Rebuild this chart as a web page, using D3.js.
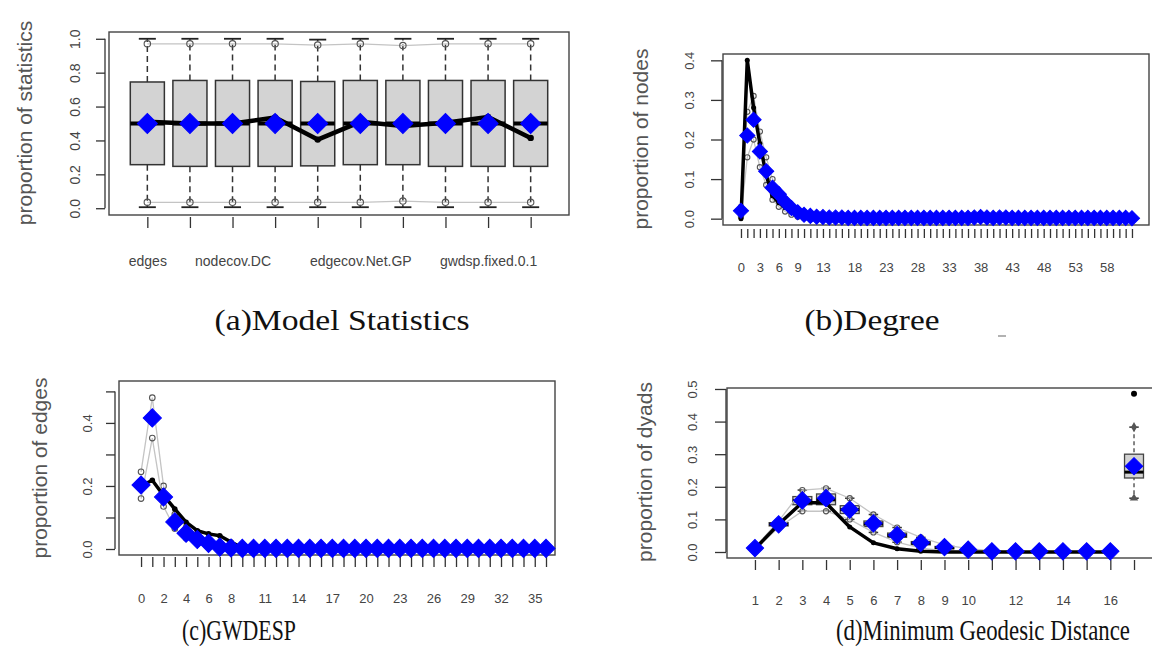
<!DOCTYPE html>
<html><head><meta charset="utf-8">
<script src="https://cdn.jsdelivr.net/npm/d3@7"></script>
<style>body{margin:0;background:#fff}svg{display:block}</style>
</head><body>
<svg id="chart" width="1152" height="664"></svg>
<script>
// ---------- (a) Model statistics ----------
const statTickLabels = ["edges","","nodecov.DC","","","edgecov.Net.GP","","","gwdsp.fixed.0.1",""];
const statQ1  = [0.257,0.247,0.247,0.247,0.250,0.257,0.257,0.247,0.247,0.247];
const statQ3  = [0.745,0.754,0.754,0.754,0.748,0.754,0.754,0.754,0.754,0.754];
const statMed = [0.50,0.50,0.50,0.50,0.50,0.50,0.50,0.50,0.50,0.50];
const statMin = [0.006,0.006,0.006,0.006,0.006,0.006,0.006,0.006,0.006,0.006];
const statMax = [1.0,1.0,1.0,1.0,0.995,1.0,1.0,1.0,1.0,1.0];
const statHi  = [0.97,0.97,0.97,0.97,0.963,0.97,0.96,0.97,0.97,0.97];
const statLo  = [0.035,0.035,0.035,0.035,0.035,0.035,0.042,0.035,0.035,0.035];
const statObs = [0.51,0.50,0.50,0.535,0.405,0.51,0.485,0.505,0.538,0.415];
const statMean= [0.50,0.50,0.50,0.50,0.50,0.50,0.50,0.50,0.50,0.50];
const statYTicks = [0,0.2,0.4,0.6,0.8,1.0];

// ---------- (b) Degree ----------
const degBlue = [0.02,0.21,0.25,0.17,0.12,0.078,0.062,0.042,0.027,0.016,
  0.01,0.007,0.005,0.004,0.003,0.003,0.003,0.002,0.002,0.002,
  0.002,0.002,0.002,0.002,0.002,0.002,0.002,0.002,0.002,0.002,
  0.002,0.002,0.002,0.002,0.002,0.002,0.002,0.003,0.004,0.003,
  0.002,0.003,0.003,0.002,0.002,0.002,0.002,0.002,0.002,0.002,
  0.002,0.002,0.002,0.002,0.002,0.002,0.002,0.002,0.002,0.002,
  0.002,0.002,0.001];
const degBlack = [0.0,0.40,0.28,0.19,0.11,0.058,0.04,0.028,0.017,0.009,
  0.005,0.003,0.002,0.001,0,0,0,0,0,0, 0,0,0,0,0,0,0,0,0,0,
  0,0,0,0,0,0,0,0,0,0, 0,0,0,0,0,0,0,0,0,0, 0,0,0,0,0,0,0,0,0,0, 0,0,0];
const degHi = [0.03,0.27,0.31,0.22,0.155,0.10,0.07,0.05,0.034,0.02,
  0.013,0.009,0.006,0.004,0.003,0.002,0.001,0.001,0,0, 0,0,0,0,0,0,0,0,0,0,
  0,0,0,0,0,0,0,0,0,0, 0,0,0,0,0,0,0,0,0,0, 0,0,0,0,0,0,0,0,0,0, 0,0,0];
const degLo = [0.005,0.155,0.20,0.13,0.085,0.048,0.03,0.018,0.01,0.005,
  0.002,0.001,0,0,0,0,0,0,0,0, 0,0,0,0,0,0,0,0,0,0,
  0,0,0,0,0,0,0,0,0,0, 0,0,0,0,0,0,0,0,0,0, 0,0,0,0,0,0,0,0,0,0, 0,0,0];
const degLabelled = [0,3,6,9,13,18,23,28,33,38,43,48,53,58];
const degYTicks = [0,0.1,0.2,0.3,0.4];

// ---------- (c) GWDESP ----------
const espBlue = [0.203,0.416,0.165,0.086,0.05,0.03,0.018,0.006,0.003,0.002,
  0.002,0.002,0.002,0.002,0.002,0.002,0.002,0.002,0.002,0.002,
  0.002,0.002,0.002,0.002,0.002,0.002,0.002,0.002,0.002,0.002,
  0.002,0.002,0.002,0.002,0.002,0.002,0.002];
const espBlack = [0.20,0.218,0.17,0.127,0.085,0.058,0.048,0.042,0.022,0.004,
  0,0,0,0,0,0,0,0,0,0, 0,0,0,0,0,0,0,0,0,0, 0,0,0,0,0,0,0];
const espHi = [0.245,0.48,0.20,0.11,0.068,0.042,0.026,0.014,0.006,0.002,
  0,0,0,0,0,0,0,0,0,0, 0,0,0,0,0,0,0,0,0,0, 0,0,0,0,0,0,0];
const espLo = [0.16,0.352,0.135,0.065,0.035,0.018,0.008,0.002,0,0,
  0,0,0,0,0,0,0,0,0,0, 0,0,0,0,0,0,0,0,0,0, 0,0,0,0,0,0,0];
const espLabelled = [0,2,4,6,8,11,14,17,20,23,26,29,32,35];
const espYTicks = [0,0.1,0.2,0.3,0.4,0.5];
const espYLabelled = [0,0.2,0.4];

// ---------- (d) Minimum geodesic distance (1..16, then NR) ----------
const geoBlue  = [0.012,0.085,0.158,0.165,0.13,0.088,0.052,0.028,0.015,0.007,0.002,0.002,0.002,0.002,0.002,0.002,0.263];
const geoBlack = [0.01,0.085,0.152,0.15,0.077,0.028,0.01,0.002,0,0,0,0,0,0,0,0];
const geoHi = [0.015,0.095,0.19,0.195,0.165,0.115,0.075,0.045,0.022,0.01,0.004,0.002,0,0,0,0,0.383];
const geoLo = [0.008,0.075,0.125,0.125,0.10,0.06,0.03,0.012,0.004,0.001,0,0,0,0,0,0,0.165];
const geoQ3 = [0.013,0.09,0.17,0.178,0.142,0.095,0.058,0.032,0.017,0.008,0.003,0.001,0,0,0,0,0.30];
const geoQ1 = [0.010,0.08,0.145,0.145,0.118,0.078,0.045,0.022,0.010,0.004,0.001,0,0,0,0,0,0.227];
const geoMed = [0.011,0.085,0.157,0.16,0.13,0.086,0.051,0.027,0.013,0.006,0.002,0,0,0,0,0,0.245];
const geoOutlier = 0.485;
const geoLabelled = [1,2,3,4,5,6,7,8,9,10,12,14,16];
const geoYTicks = [0,0.1,0.2,0.3,0.4,0.5];

const captions = ["(a)Model Statistics","(b)Degree","(c)GWDESP","(d)Minimum Geodesic Distance"];

// =============== drawing ===============
const svg = d3.select("#chart");
const BLUE = "#0000ff";
const TICKCOL = "#444";

function setupPanel(o) {
  const g = svg.append("g");
  const x = d3.scaleLinear().domain(o.xDomain).range([o.frame.l, o.frame.r]);
  const y = d3.scaleLinear().domain(o.yDomain).range([o.frame.b, o.frame.t]);
  const ya = g.append("g").attr("transform", `translate(${o.yAxisX},0)`)
    .call(d3.axisLeft(y).tickValues(o.yTicks).tickSize(o.yTickLen)
      .tickFormat(d => (o.yLabelled ? o.yLabelled.includes(d) : true) ? d3.format(".1f")(d) : ""));
  ya.select(".domain").remove();
  ya.selectAll(".tick line").attr("stroke", "#333").attr("stroke-width", 1.3);
  ya.append("line").attr("x1", 0).attr("x2", 0)
    .attr("y1", y(o.yTicks[0])).attr("y2", y(o.yTicks[o.yTicks.length - 1]))
    .attr("stroke", "#333").attr("stroke-width", 1.3);
  ya.selectAll(".tick text").attr("transform", "rotate(-90)")
    .attr("x", 0).attr("y", -o.yLabelDist).attr("dy", "0.35em")
    .style("text-anchor", "middle").attr("fill", TICKCOL)
    .style("font-family", "Liberation Sans, Arial, sans-serif").style("font-size", o.yFont + "px");
  const xa = g.append("g").attr("transform", `translate(0,${o.xTickTop})`)
    .call(d3.axisBottom(x).tickValues(o.xTicks).tickSize(o.xTickLen).tickFormat(o.xFormat));
  xa.select(".domain").remove();
  xa.selectAll(".tick line").attr("stroke", "#333").attr("stroke-width", 1.3);
  xa.selectAll(".tick text").attr("y", o.xLabelY - o.xTickTop).attr("dy", "0.35em")
    .attr("fill", TICKCOL)
    .style("font-family", "Liberation Sans, Arial, sans-serif").style("font-size", o.xFont + "px");
  g.append("text").attr("transform", `translate(${o.ylabX},${o.ylabY}) rotate(-90)`)
    .attr("dy", "0.35em").attr("text-anchor", "middle").attr("fill", "#555")
    .style("font-family", "Liberation Sans, Arial, sans-serif").style("font-size", o.ylabFont + "px")
    .text(o.ylabel);
  g.append("rect").attr("x", o.frame.l).attr("y", o.frame.t)
    .attr("width", o.frame.r - o.frame.l).attr("height", o.frame.b - o.frame.t)
    .attr("fill", "none").attr("stroke", "#444").attr("stroke-width", 1.4);
  const plot = g.append("g");
  return { g: plot, x, y };
}

function diamonds(g, xs, ys, size) {
  const sym = d3.symbol().type(d3.symbolSquare).size(size);
  g.selectAll(null).data(ys).join("path")
    .attr("d", sym())
    .attr("transform", (d, i) => `translate(${xs(i)},${ys[i]}) rotate(45)`)
    .attr("fill", BLUE).attr("stroke", BLUE).attr("stroke-width", 1);
}
function grayLine(g, pts, r) {
  g.append("path").datum(pts).attr("fill", "none").attr("stroke", "#c4c4c4").attr("stroke-width", 1.3)
    .attr("d", d3.line().x(d => d[0]).y(d => d[1]));
  g.selectAll(null).data(pts).join("circle").attr("cx", d => d[0]).attr("cy", d => d[1]).attr("r", r)
    .attr("fill", "none").attr("stroke", "#555").attr("stroke-width", 1.1);
}
function blackLine(g, pts, w, r) {
  g.append("path").datum(pts).attr("fill", "none").attr("stroke", "#000").attr("stroke-width", w)
    .attr("stroke-linejoin", "round").attr("d", d3.line().x(d => d[0]).y(d => d[1]));
  g.selectAll(null).data(pts).join("circle").attr("cx", d => d[0]).attr("cy", d => d[1]).attr("r", r).attr("fill", "#000");
}

// ---- panel (a)
{
  const n = statQ1.length;
  const cats = d3.range(1, n + 1);
  const P = setupPanel({
    frame: { l: 109, t: 32, r: 569, b: 215 }, xDomain: [0.1, 10.9], yDomain: [-0.04, 1.04],
    yAxisX: 105, yTicks: statYTicks, yTickLen: 9, yLabelDist: 30, yFont: 14,
    xTicks: cats, xFormat: d => statTickLabels[d - 1], xTickTop: 217, xTickLen: 11, xLabelY: 261, xFont: 14,
    ylabel: "proportion of statistics", ylabX: 25, ylabY: 123, ylabFont: 21
  });
  const { g, x, y } = P;
  const hw = (x(1.4) - x(0.6)) / 2, cw = (x(1.2) - x(0.8)) / 2;
  cats.forEach((c, i) => {
    const cx = x(c);
    g.append("line").attr("x1", cx).attr("x2", cx).attr("y1", y(statQ3[i])).attr("y2", y(statMax[i]))
      .attr("stroke", "#333").attr("stroke-width", 1.5).attr("stroke-dasharray", "6,4");
    g.append("line").attr("x1", cx).attr("x2", cx).attr("y1", y(statQ1[i])).attr("y2", y(statMin[i]))
      .attr("stroke", "#333").attr("stroke-width", 1.5).attr("stroke-dasharray", "6,4");
    [statMax[i], statMin[i]].forEach(v => g.append("line").attr("x1", cx - cw).attr("x2", cx + cw)
      .attr("y1", y(v)).attr("y2", y(v)).attr("stroke", "#222").attr("stroke-width", 1.8));
    g.append("rect").attr("x", cx - hw).attr("y", y(statQ3[i])).attr("width", 2 * hw)
      .attr("height", y(statQ1[i]) - y(statQ3[i])).attr("fill", "#d3d3d3").attr("stroke", "#333").attr("stroke-width", 1.5);
    g.append("line").attr("x1", cx - hw).attr("x2", cx + hw).attr("y1", y(statMed[i])).attr("y2", y(statMed[i]))
      .attr("stroke", "#000").attr("stroke-width", 4);
  });
  grayLine(g, cats.map((c, i) => [x(c), y(statHi[i])]), 3.2);
  grayLine(g, cats.map((c, i) => [x(c), y(statLo[i])]), 3.2);
  blackLine(g, cats.map((c, i) => [x(c), y(statObs[i])]), 4.5, 3.2);
  diamonds(g, i => x(cats[i]), statMean.map(v => y(v)), 200);
}

// ---- panel (b)
{
  const cats = d3.range(0, degBlue.length);
  const P = setupPanel({
    frame: { l: 723, t: 54, r: 1149, b: 225 }, xDomain: [-2.85, 64.7], yDomain: [-0.016, 0.416],
    yAxisX: 722, yTicks: degYTicks, yTickLen: 11, yLabelDist: 33, yFont: 13,
    xTicks: cats, xFormat: d => degLabelled.includes(d) ? d : "", xTickTop: 229, xTickLen: 9, xLabelY: 267, xFont: 13,
    ylabel: "proportion of nodes", ylabX: 641, ylabY: 139, ylabFont: 21
  });
  const { g, x, y } = P;
  grayLine(g, cats.map((c, i) => [x(c), y(degHi[i])]), 2.6);
  grayLine(g, cats.map((c, i) => [x(c), y(degLo[i])]), 2.6);
  blackLine(g, cats.map((c, i) => [x(c), y(degBlack[i])]), 3.5, 2.5);
  diamonds(g, i => x(cats[i]), degBlue.map(v => y(v)), 115);
}

// ---- panel (c)
{
  const cats = d3.range(0, espBlue.length);
  const P = setupPanel({
    frame: { l: 119, t: 381, r: 555, b: 555 }, xDomain: [-1.96, 36.8], yDomain: [-0.019, 0.533],
    yAxisX: 115, yTicks: espYTicks, yLabelled: espYLabelled, yTickLen: 9, yLabelDist: 28, yFont: 13,
    xTicks: cats, xFormat: d => espLabelled.includes(d) ? d : "", xTickTop: 557, xTickLen: 10, xLabelY: 598, xFont: 13,
    ylabel: "proportion of edges", ylabX: 40, ylabY: 468, ylabFont: 21
  });
  const { g, x, y } = P;
  grayLine(g, cats.map((c, i) => [x(c), y(espHi[i])]), 2.8);
  grayLine(g, cats.map((c, i) => [x(c), y(espLo[i])]), 2.8);
  blackLine(g, cats.map((c, i) => [x(c), y(espBlack[i])]), 3.5, 2.8);
  diamonds(g, i => x(cats[i]), espBlue.map(v => y(v)), 165);
}

// ---- panel (d)
{
  const cats = d3.range(1, geoBlue.length + 1);
  const P = setupPanel({
    frame: { l: 727, t: 388, r: 1175, b: 558 }, xDomain: [-0.18, 18.73], yDomain: [-0.0184, 0.503],
    yAxisX: 726, yTicks: geoYTicks, yTickLen: 11, yLabelDist: 34, yFont: 13,
    xTicks: cats, xFormat: d => geoLabelled.includes(d) ? d : "", xTickTop: 560, xTickLen: 10, xLabelY: 600, xFont: 13,
    ylabel: "proportion of dyads", ylabX: 645, ylabY: 472, ylabFont: 21
  });
  const { g, x, y } = P;
  const hw = (x(1.4) - x(0.6)) / 2, cw = (x(1.2) - x(0.8)) / 2;
  cats.forEach((c, i) => {
    const cx = x(c);
    if (geoHi[i] - geoLo[i] > 0.01) {
      g.append("line").attr("x1", cx).attr("x2", cx).attr("y1", y(geoHi[i])).attr("y2", y(geoLo[i]))
        .attr("stroke", "#444").attr("stroke-width", 1.3).attr("stroke-dasharray", "4,3");
      [geoHi[i], geoLo[i]].forEach(v => g.append("line").attr("x1", cx - cw).attr("x2", cx + cw)
        .attr("y1", y(v)).attr("y2", y(v)).attr("stroke", "#333").attr("stroke-width", 1.5));
      g.append("rect").attr("x", cx - hw).attr("y", y(geoQ3[i])).attr("width", 2 * hw)
        .attr("height", y(geoQ1[i]) - y(geoQ3[i])).attr("fill", "#d3d3d3").attr("stroke", "#444").attr("stroke-width", 1.3);
      g.append("line").attr("x1", cx - hw).attr("x2", cx + hw).attr("y1", y(geoMed[i])).attr("y2", y(geoMed[i]))
        .attr("stroke", "#000").attr("stroke-width", 3);
    }
  });
  const inf = cats.length - 1;
  const lineCats = cats.slice(0, inf);
  grayLine(g, lineCats.map((c, i) => [x(c), y(geoHi[i])]), 2.6);
  grayLine(g, lineCats.map((c, i) => [x(c), y(geoLo[i])]), 2.6);
  blackLine(g, lineCats.map((c, i) => [x(c), y(geoBlack[i])]), 3.5, 2.5);
  g.append("path").attr("d", d3.symbol().type(d3.symbolDiamond).size(30)())
    .attr("transform", `translate(${x(cats[inf])},${y(geoHi[inf])})`).attr("fill", "#555");
  g.append("path").attr("d", d3.symbol().type(d3.symbolTriangle).size(30)())
    .attr("transform", `translate(${x(cats[inf])},${y(geoLo[inf])})`).attr("fill", "#555");
  g.append("circle").attr("cx", x(cats[inf])).attr("cy", y(geoOutlier)).attr("r", 3).attr("fill", "#000");
  diamonds(g, i => x(cats[i]), geoBlue.map(v => y(v)), 150);
}

// ---- captions (condensed serif, stretched vertically)
const capPos = [[342, 330, 255], [872, 330, 135], [239, 640, 114], [983, 640, 294]];
captions.forEach((t, i) => {
  svg.append("text").attr("transform", `translate(${capPos[i][0]},${capPos[i][1]}) scale(1,1.25)`)
    .attr("text-anchor", "middle")
    .attr("textLength", capPos[i][2]).attr("lengthAdjust", "spacingAndGlyphs")
    .style("font-family", "Liberation Serif, serif").style("font-size", "23px").attr("fill", "#111").text(t);
});
svg.append("line").attr("x1", 998).attr("x2", 1006).attr("y1", 336).attr("y2", 336).attr("stroke", "#999").attr("stroke-width", 1.5);
</script>
</body></html>
